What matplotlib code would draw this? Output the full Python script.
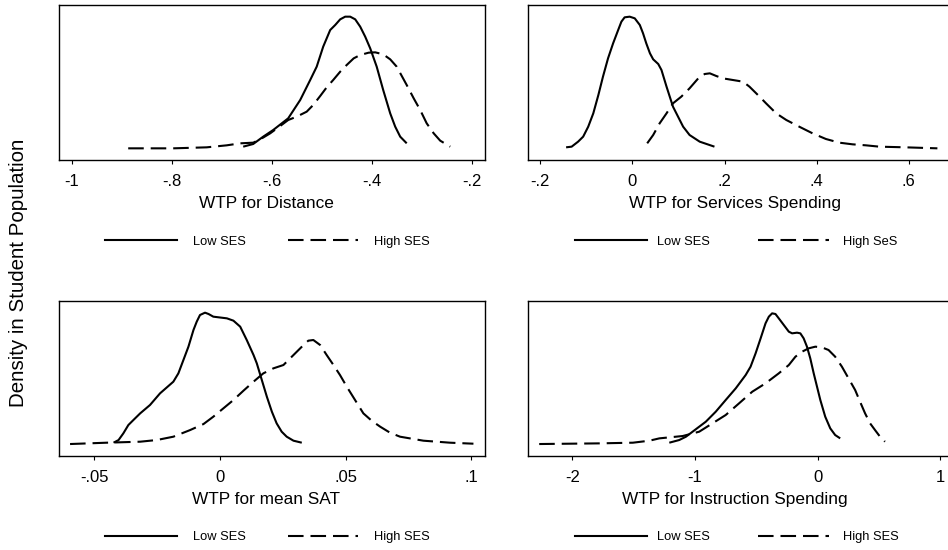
import matplotlib
matplotlib.use('Agg')
import matplotlib.pyplot as plt
from matplotlib.lines import Line2D

plt.rcParams['font.family'] = ['Liberation Sans', 'DejaVu Sans']
plt.rcParams['lines.scale_dashes'] = False

# ---------------- data (relative density heights) -------------
dist_low_x = [-0.657, -0.637, -0.617, -0.597, -0.567, -0.543, -0.523, -0.510, -0.497, -0.483,
              -0.473, -0.463, -0.453, -0.443, -0.433, -0.423, -0.413, -0.403, -0.390, -0.377,
              -0.363, -0.353, -0.343, -0.330]
dist_low_y = [5, 13, 35, 55, 90, 145, 205, 245, 305, 355, 370, 387, 395, 395, 387, 365, 335,
              300, 245, 175, 105, 65, 35, 15]
dist_high_x = [-0.887, -0.797, -0.730, -0.690, -0.663, -0.637, -0.623, -0.603, -0.583, -0.567,
               -0.550, -0.530, -0.517, -0.503, -0.490, -0.477, -0.463, -0.450, -0.436, -0.423,
               -0.406, -0.393, -0.377, -0.363, -0.350, -0.330, -0.316, -0.303, -0.290, -0.276,
               -0.263, -0.243]
dist_high_y = [0, 0, 3, 9, 15, 17, 27, 45, 67, 85, 95, 110, 130, 157, 183, 205, 230, 250, 270,
               280, 287, 288, 282, 267, 245, 190, 150, 115, 75, 45, 23, 5]

serv_low_x = [-0.144, -0.132, -0.118, -0.107, -0.096, -0.085, -0.074, -0.064, -0.053, -0.042,
              -0.031, -0.024, -0.017, -0.006, 0.005, 0.016, 0.023, 0.030, 0.038, 0.045, 0.056,
              0.063, 0.074, 0.088, 0.099, 0.110, 0.124, 0.146, 0.178]
serv_low_y = [5, 7, 22, 37, 67, 107, 162, 217, 272, 317, 357, 382, 395, 397, 392, 372, 347,
              317, 287, 269, 255, 237, 187, 127, 97, 67, 42, 22, 7]
serv_high_x = [0.032, 0.045, 0.059, 0.074, 0.088, 0.106, 0.124, 0.146, 0.157, 0.168, 0.182,
               0.196, 0.218, 0.240, 0.254, 0.276, 0.290, 0.312, 0.334, 0.362, 0.391, 0.420,
               0.449, 0.478, 0.507, 0.536, 0.593, 0.662]
serv_high_y = [17, 42, 77, 107, 137, 157, 182, 217, 225, 227, 219, 212, 207, 202, 187, 157,
               137, 107, 87, 67, 47, 30, 19, 14, 11, 7, 5, 2]

sat_low_x = [-0.0424, -0.0404, -0.0385, -0.0365, -0.0345, -0.0318, -0.0279, -0.0239, -0.0186,
             -0.0166, -0.0146, -0.0126, -0.0106, -0.0093, -0.0080, -0.0060, -0.0046, -0.0027,
             0.0027, 0.0053, 0.0080, 0.0106, 0.0133, 0.0146, 0.0166, 0.0186, 0.0206, 0.0225,
             0.0245, 0.0265, 0.0292, 0.0325]
sat_low_y = [4, 12, 32, 57, 72, 92, 117, 152, 187, 212, 252, 292, 342, 367, 387, 394, 390, 382,
             377, 370, 352, 312, 267, 242, 192, 142, 97, 62, 37, 22, 10, 4]
sat_high_x = [-0.0597, -0.0451, -0.0318, -0.0252, -0.0186, -0.0119, -0.0066, -0.0027, 0.0013,
              0.0053, 0.0093, 0.0133, 0.0172, 0.0212, 0.0252, 0.0292, 0.0332, 0.0351, 0.0371,
              0.0398, 0.0424, 0.0451, 0.0477, 0.0504, 0.0537, 0.0570, 0.0603, 0.0637, 0.0676,
              0.0716, 0.0809, 0.0915, 0.1008]
sat_high_y = [0, 4, 7, 12, 22, 42, 60, 82, 107, 132, 160, 187, 212, 227, 237, 267, 297, 310,
              312, 297, 267, 237, 207, 172, 132, 92, 70, 52, 34, 22, 10, 4, 1]

inst_low_x = [-1.210, -1.129, -1.074, -1.020, -0.966, -0.912, -0.831, -0.750, -0.668, -0.587,
              -0.547, -0.506, -0.465, -0.425, -0.398, -0.371, -0.344, -0.317, -0.276, -0.235,
              -0.208, -0.168, -0.141, -0.114, -0.087, -0.060, -0.032, -0.005, 0.022, 0.062,
              0.103, 0.143, 0.184]
inst_low_y = [4, 12, 22, 37, 52, 67, 97, 132, 167, 207, 232, 272, 317, 362, 382, 392, 390, 377,
              357, 337, 332, 334, 332, 317, 292, 257, 212, 172, 132, 82, 47, 27, 17]
inst_high_x = [-2.271, -1.778, -1.507, -1.372, -1.291, -1.101, -0.966, -0.858, -0.750, -0.641,
               -0.533, -0.425, -0.317, -0.235, -0.181, -0.127, -0.073, -0.019, 0.035, 0.089,
               0.143, 0.198, 0.252, 0.306, 0.346, 0.387, 0.428, 0.468, 0.509, 0.549]
inst_high_y = [0, 2, 4, 10, 17, 24, 37, 62, 87, 122, 157, 182, 212, 237, 262, 277, 287, 292,
               290, 282, 262, 232, 197, 162, 127, 92, 62, 42, 22, 7]

dist_ticks = [-1, -0.8, -0.6, -0.4, -0.2]
dist_ticklabels = ['-1', '-.8', '-.6', '-.4', '-.2']
serv_ticks = [-0.2, 0, 0.2, 0.4, 0.6]
serv_ticklabels = ['-.2', '0', '.2', '.4', '.6']
sat_ticks = [-0.05, 0, 0.05, 0.1]
sat_ticklabels = ['-.05', '0', '.05', '.1']
inst_ticks = [-2, -1, 0, 1]
inst_ticklabels = ['-2', '-1', '0', '1']

xlabels = ['WTP for Distance', 'WTP for Services Spending',
           'WTP for mean SAT', 'WTP for Instruction Spending']
low_label = 'Low SES'
high_labels = ['High SES', 'High SeS', 'High SES', 'High SES']
ylabel = 'Density in Student Population'

# ---------------- layout ----------------
W, H = 948, 550
fig = plt.figure(figsize=(W / 100, H / 100), dpi=100)


def fx(px):
    return px / W


def fy(py):
    return 1 - py / H


LW = 1.5
DASH = (11.2, 5.0)

cols = [(59, 485), (528.3, 952)]
rows = [(5, 160), (301, 455.7)]
xlims = [(-1.0254, -0.1734), (-0.2261, 0.6937), (-0.0641, 0.1054), (-2.360, 1.096)]
ylims = [(-35, 430), (-33, 432), (-35, 429), (-35, 429)]

panels = [
    (dist_low_x, dist_low_y, dist_high_x, dist_high_y, dist_ticks, dist_ticklabels),
    (serv_low_x, serv_low_y, serv_high_x, serv_high_y, serv_ticks, serv_ticklabels),
    (sat_low_x, sat_low_y, sat_high_x, sat_high_y, sat_ticks, sat_ticklabels),
    (inst_low_x, inst_low_y, inst_high_x, inst_high_y, inst_ticks, inst_ticklabels),
]

legend_pos = [
    (105, 193, 288, 358, 374),
    (575, 657, 758, 829, 843),
]

for i, (lx, ly, hx, hy, ticks, tlabels) in enumerate(panels):
    r, c = divmod(i, 2)
    x0, x1 = cols[c]
    y0, y1 = rows[r]
    ax = fig.add_axes([fx(x0), fy(y1), (x1 - x0) / W, (y1 - y0) / H])
    ax.plot(lx, ly, color='black', lw=LW, solid_joinstyle='round', solid_capstyle='butt')
    ax.plot(hx, hy, color='black', lw=LW, dashes=DASH, dash_capstyle='butt',
            dash_joinstyle='round')
    ax.set_xlim(*xlims[i])
    ax.set_ylim(*ylims[i])
    ax.set_yticks([])
    ax.set_xticks(ticks)
    ax.set_xticklabels(tlabels)
    ax.tick_params(axis='x', direction='out', length=3, width=0.8, pad=7.0,
                   labelsize=12, colors='black')
    for sp in ax.spines.values():
        sp.set_linewidth(1.0)
        sp.set_color('black')

    # x axis title
    xc = (x0 + x1) / 2 - 5.5
    base = 208.3 + (y1 - 160)
    fig.text(fx(xc), fy(base), xlabels[i], ha='center', va='baseline', fontsize=12.4)

    # legend
    lx0, tx0, dx0, dx1, htx = legend_pos[c]
    ly_px = 240 + (y1 - 160)
    fig.add_artist(Line2D([fx(lx0), fx(lx0 + 72)], [fy(ly_px), fy(ly_px)],
                          transform=fig.transFigure, color='black', lw=LW))
    fig.text(fx(tx0), fy(ly_px + 4.6), low_label, ha='left', va='baseline', fontsize=9.3)
    fig.add_artist(Line2D([fx(dx0), fx(dx1)], [fy(ly_px), fy(ly_px)],
                          transform=fig.transFigure, color='black', lw=LW,
                          dashes=DASH, dash_capstyle='butt'))
    fig.text(fx(htx), fy(ly_px + 4.6), high_labels[i], ha='left', va='baseline', fontsize=9.3)

fig.text(fx(19), fy(273), ylabel, rotation=90, ha='center', va='center', fontsize=14.8)

fig.savefig('out.png', dpi=100, facecolor='white')
